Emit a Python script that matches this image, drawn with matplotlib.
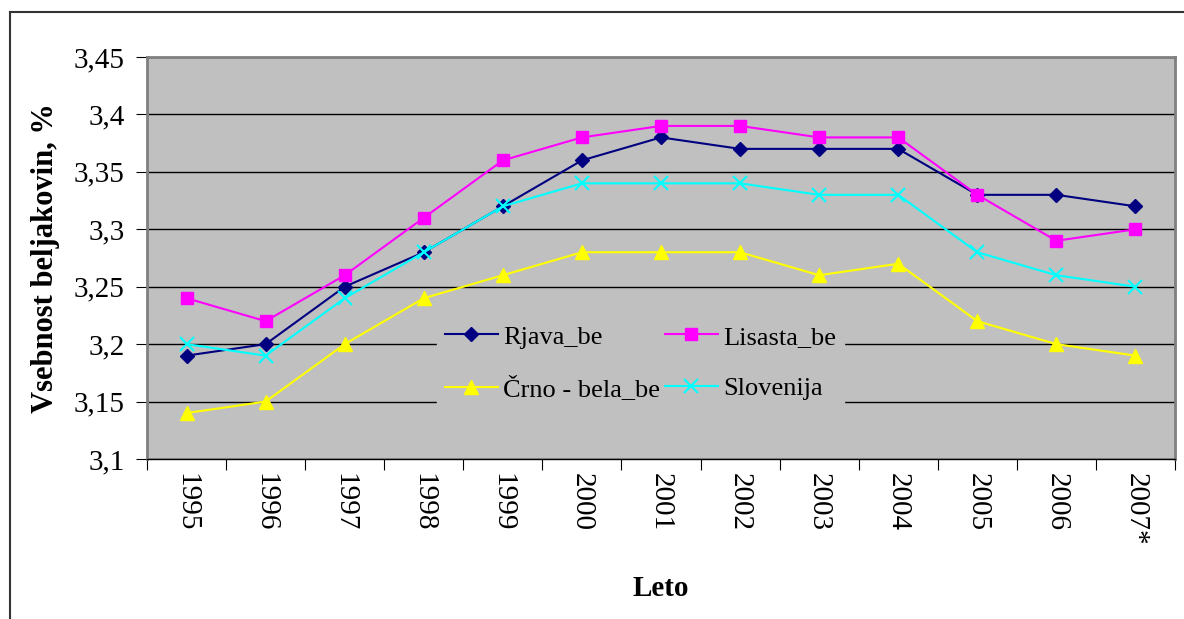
import numpy as np
import matplotlib

matplotlib.use('Agg')
import matplotlib.pyplot as plt
from matplotlib.lines import Line2D

years = ['1995', '1996', '1997', '1998', '1999', '2000', '2001',
         '2002', '2003', '2004', '2005', '2006', '2007*']

rjava = [3.19, 3.20, 3.25, 3.28, 3.32, 3.36, 3.38, 3.37, 3.37, 3.37, 3.33, 3.33, 3.32]
lisasta = [3.24, 3.22, 3.26, 3.31, 3.36, 3.38, 3.39, 3.39, 3.38, 3.38, 3.33, 3.29, 3.30]
crno_bela = [3.14, 3.15, 3.20, 3.24, 3.26, 3.28, 3.28, 3.28, 3.26, 3.27, 3.22, 3.20, 3.19]
slovenija = [3.20, 3.19, 3.24, 3.28, 3.32, 3.34, 3.34, 3.34, 3.33, 3.33, 3.28, 3.26, 3.25]

y_ticks = [3.1, 3.15, 3.2, 3.25, 3.3, 3.35, 3.4, 3.45]
y_tick_labels = ['3,1', '3,15', '3,2', '3,25', '3,3', '3,35', '3,4', '3,45']

plt.rcParams['font.family'] = ['Liberation Serif', 'DejaVu Serif']

fig = plt.figure(figsize=(11.84, 6.19), dpi=100)
ax = fig.add_axes([147 / 1184, 1 - 459 / 619, 1028 / 1184, 402 / 619])
ax.set_facecolor('#C0C0C0')

# outer chart frame (only left and top edges visible)
fig.add_artist(Line2D([9.5 / 1184, 9.5 / 1184], [0, 1 - 12 / 619],
                      transform=fig.transFigure, color='#333333', lw=1.5))
fig.add_artist(Line2D([9.5 / 1184, 1], [1 - 12 / 619, 1 - 12 / 619],
                      transform=fig.transFigure, color='#333333', lw=1.5))

x = np.arange(len(years))

h1, = ax.plot(x, rjava, color='#000080', marker='D', markersize=7.5, lw=1.5, label='Rjava_be', zorder=3)
h2, = ax.plot(x, lisasta, color='#FF00FF', marker='s', markersize=8.5, lw=1.5, label='Lisasta_be', zorder=3)
h3, = ax.plot(x, crno_bela, color='#FFFF00', marker='^', markersize=10.5, lw=1.5, label='Črno - bela_be', zorder=3)
h4, = ax.plot(x, slovenija, color='#00FFFF', marker='x', markersize=9.5, mew=1.5, lw=1.5, label='Slovenija', zorder=3)

ax.set_ylim(3.1, 3.45)
ax.set_yticks(y_ticks)
ax.set_yticklabels(y_tick_labels, fontsize=21)
ax.yaxis.grid(True, color='black', lw=1)
ax.set_axisbelow(True)

ax.set_xlim(-0.5, len(years) - 0.5)
ax.set_xticks(np.arange(-0.5, len(years), 1.0))
ax.set_xticklabels([])
ax.set_xticks(x, minor=True)
ax.set_xticklabels(years, minor=True, rotation=-90, fontsize=21)
ax.tick_params(axis='x', which='minor', length=0, pad=10)
ax.tick_params(axis='x', which='major', length=8, color='black', direction='out')
ax.tick_params(axis='y', length=8, color='black', direction='out', pad=8)

for s in ax.spines.values():
    s.set_color('#808080')
    s.set_linewidth(2)
ax.spines['bottom'].set_color('black')
ax.spines['bottom'].set_linewidth(1)

ax.set_xlabel('Leto', fontsize=21, fontweight='bold', labelpad=21)
ax.set_ylabel('Vsebnost beljakovin, %', fontsize=22, fontweight='bold', labelpad=10)

# legend fills by column, so order handles to get rows Rjava/Lisasta, Črno/Slovenija
leg = ax.legend([h1, h3, h2, h4], [h1.get_label(), h3.get_label(), h2.get_label(), h4.get_label()],
                loc='center', bbox_to_anchor=(0.480, 0.238), ncol=2, fontsize=19,
                frameon=True, facecolor='#C0C0C0', edgecolor='#C0C0C0', framealpha=1,
                handlelength=2.0, labelspacing=1.05, columnspacing=0.2, handletextpad=0.2,
                fancybox=False, borderpad=0.3)

fig.savefig('out.png', dpi=100)
